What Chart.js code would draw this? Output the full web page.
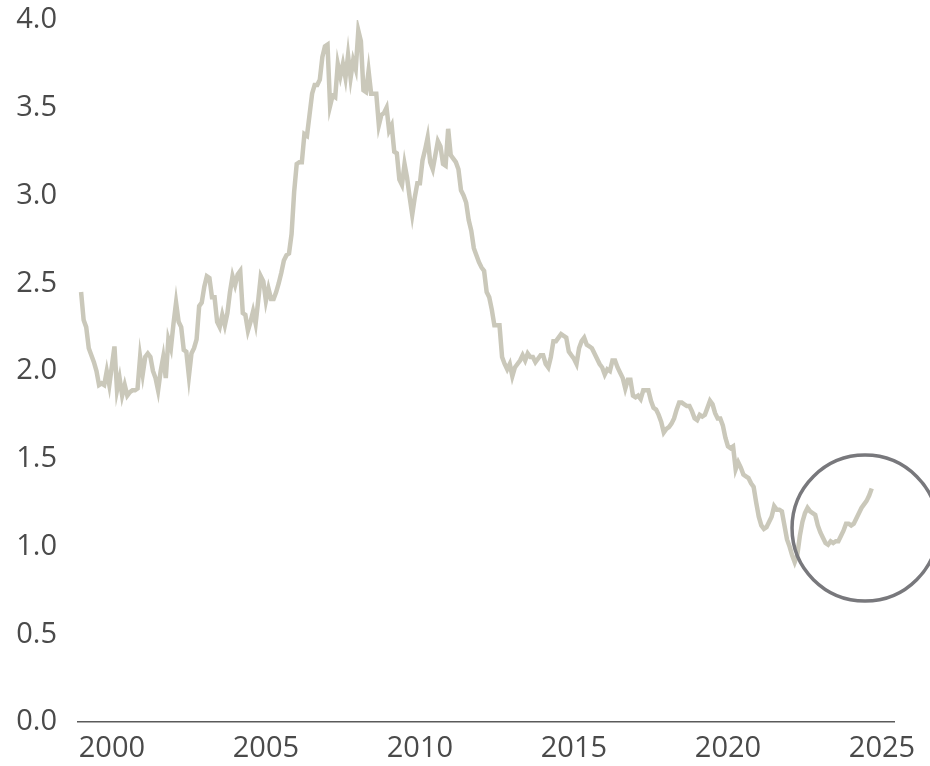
<!DOCTYPE html>
<html>
<head>
<meta charset="utf-8">
<script src="https://cdn.jsdelivr.net/npm/chart.js@4"></script>
<style>
  html, body { margin: 0; padding: 0; background: #fff; }
  #wrap { width: 930px; height: 766px; }
</style>
</head>
<body>
<div id="wrap"><canvas id="chart"></canvas></div>
<script>
// monthly series, Jan 1999 .. Sep 2024
const startYear = 1999;
const monthlyValues = [
  2.45, 2.29, 2.25, 2.13, 2.09, 2.05, 2.00, 1.92, 1.93, 1.92, 2.00, 1.92, // 1999
  2.03, 2.14, 1.89, 1.96, 1.86, 1.92, 1.86, 1.88, 1.89, 1.89, 1.90, 2.08, // 2000
  1.98, 2.08, 2.10, 2.08, 2.00, 1.96, 1.89, 2.00, 2.08, 1.96, 2.18, 2.13, // 2001
  2.27, 2.39, 2.28, 2.25, 2.12, 2.11, 1.97, 2.10, 2.13, 2.18, 2.37, 2.39, // 2002
  2.48, 2.54, 2.53, 2.42, 2.42, 2.28, 2.25, 2.32, 2.26, 2.33, 2.45, 2.54, // 2003
  2.49, 2.55, 2.57, 2.33, 2.32, 2.23, 2.28, 2.34, 2.27, 2.40, 2.54, 2.51, // 2004
  2.40, 2.47, 2.41, 2.41, 2.45, 2.50, 2.56, 2.63, 2.66, 2.67, 2.78, 3.02, // 2005
  3.18, 3.19, 3.19, 3.35, 3.34, 3.46, 3.58, 3.63, 3.63, 3.66, 3.79, 3.85, // 2006
  3.86, 3.51, 3.57, 3.56, 3.75, 3.68, 3.75, 3.67, 3.80, 3.67, 3.77, 3.72, // 2007
  3.94, 3.88, 3.60, 3.59, 3.71, 3.58, 3.58, 3.58, 3.40, 3.46, 3.47, 3.50, // 2008
  3.37, 3.40, 3.25, 3.24, 3.09, 3.06, 3.18, 3.10, 2.99, 2.89, 2.99, 3.07, // 2009
  3.07, 3.20, 3.26, 3.33, 3.19, 3.15, 3.23, 3.31, 3.28, 3.18, 3.17, 3.38, // 2010
  3.23, 3.21, 3.19, 3.15, 3.03, 3.00, 2.96, 2.86, 2.80, 2.70, 2.66, 2.62, // 2011
  2.59, 2.57, 2.45, 2.42, 2.35, 2.26, 2.26, 2.26, 2.08, 2.04, 2.01, 2.04, // 2012
  1.97, 2.02, 2.04, 2.06, 2.09, 2.06, 2.10, 2.08, 2.08, 2.05, 2.07, 2.09, // 2013
  2.09, 2.04, 2.02, 2.08, 2.17, 2.17, 2.19, 2.21, 2.20, 2.19, 2.11, 2.09, // 2014
  2.07, 2.04, 2.13, 2.17, 2.19, 2.15, 2.14, 2.13, 2.10, 2.07, 2.04, 2.02, // 2015
  1.98, 2.01, 2.00, 2.06, 2.06, 2.02, 1.99, 1.96, 1.90, 1.95, 1.95, 1.86, // 2016
  1.85, 1.86, 1.84, 1.89, 1.89, 1.89, 1.83, 1.79, 1.78, 1.75, 1.71, 1.65, // 2017
  1.67, 1.68, 1.70, 1.73, 1.78, 1.82, 1.82, 1.81, 1.80, 1.80, 1.77, 1.73, // 2018
  1.72, 1.75, 1.74, 1.75, 1.79, 1.83, 1.81, 1.76, 1.73, 1.73, 1.69, 1.62, // 2019
  1.57, 1.56, 1.57, 1.44, 1.48, 1.45, 1.41, 1.40, 1.39, 1.36, 1.34, 1.25, // 2020
  1.17, 1.12, 1.10, 1.11, 1.14, 1.17, 1.23, 1.21, 1.21, 1.20, 1.12, 1.04, // 2021
  1.00, 0.95, 0.91, 0.95, 1.06, 1.14, 1.19, 1.22, 1.20, 1.19, 1.18, 1.12, // 2022
  1.08, 1.05, 1.02, 1.01, 1.03, 1.02, 1.03, 1.03, 1.06, 1.09, 1.13, 1.13, // 2023
  1.12, 1.13, 1.16, 1.19, 1.22, 1.24, 1.26, 1.29, 1.33                    // 2024
];
const xTickYears = [2000, 2005, 2010, 2015, 2020, 2025];
const yTickValues = [0, 0.5, 1, 1.5, 2, 2.5, 3, 3.5, 4];
// highlighted zone (circle) around the recent values
const highlight = { year: 2024.45, value: 1.105 };

const points = monthlyValues.map((v, i) => ({ x: startYear + i / 12, y: v }));

const circlePlugin = {
  id: 'circle',
  afterDatasetsDraw(chart) {
    const { ctx, scales } = chart;
    const cx = scales.x.getPixelForValue(highlight.year);
    const cy = scales.y.getPixelForValue(highlight.value);
    ctx.save();
    ctx.beginPath();
    ctx.arc(cx, cy, 73, 0, Math.PI * 2);
    ctx.lineWidth = 3.5;
    ctx.strokeStyle = '#78787c';
    ctx.stroke();
    ctx.restore();
  }
};

const tickFont = { family: '"Open Sans", sans-serif', size: 29 };

new Chart(document.getElementById('chart').getContext('2d'), {
  type: 'line',
  data: {
    datasets: [{
      data: points,
      borderColor: '#cac8ba',
      borderWidth: 4.5,
      pointRadius: 0,
      tension: 0,
      fill: false
    }]
  },
  options: {
    responsive: true,
    maintainAspectRatio: false,
    animation: false,
    layout: { padding: { left: 0, right: 36, top: 20, bottom: 0 } },
    plugins: { legend: { display: false }, tooltip: { enabled: false } },
    scales: {
      x: {
        type: 'linear',
        min: 1998.9,
        max: 2025.39,
        afterBuildTicks: s => { s.ticks = xTickYears.map(v => ({ value: v })); },
        afterFit: s => { s.height = 44; },
        grid: { display: false, drawTicks: false },
        border: { display: true, color: '#5a5a5a', width: 1.5 },
        ticks: {
          color: '#4a4a4a',
          font: tickFont,
          padding: 9,
          maxRotation: 0,
          autoSkip: false,
          callback: v => String(v)
        }
      },
      y: {
        min: 0,
        max: 4,
        afterBuildTicks: s => { s.ticks = yTickValues.map(v => ({ value: v })); },
        afterFit: s => { s.width = 78; s.paddingTop = 0; s.paddingBottom = 0; },
        grid: { display: false, drawTicks: false },
        border: { display: false },
        ticks: {
          color: '#4a4a4a',
          font: tickFont,
          padding: 21,
          callback: v => v.toFixed(1)
        }
      }
    }
  },
  plugins: [circlePlugin]
});
</script>
</body>
</html>
